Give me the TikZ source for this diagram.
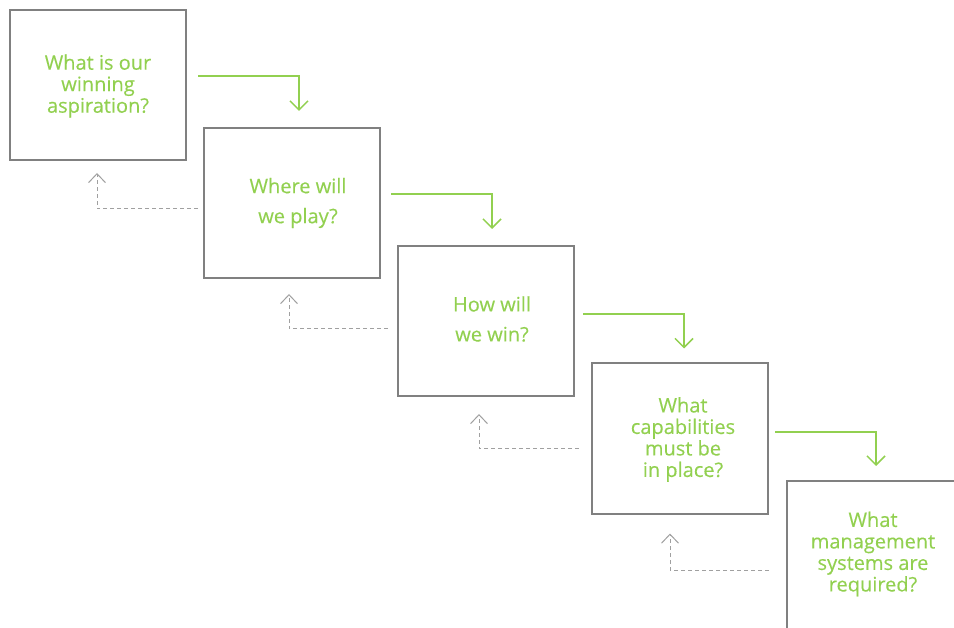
\documentclass[tikz,border=0pt]{standalone}
\usepackage{fontspec}
\setmainfont{Open Sans}
\newfontfamily\qfont{Open Sans}[FakeBold=0.3]
\usetikzlibrary{arrows.meta}
\definecolor{qgreen}{RGB}{146,208,80}
\definecolor{qgray}{RGB}{128,128,128}
\definecolor{qdash}{RGB}{160,160,160}
\tikzset{
    qbox/.style={draw=qgray, line width=2pt, minimum width=176pt, minimum height=150pt, outer sep=0pt},
    qtext/.style={text=qgreen, align=center, font=\qfont\fontsize{20}{21.5}\selectfont},
    fwd/.style={draw=qgreen, line width=1.5pt, -{Straight Barb[length=9pt, width=18pt]}},
    back/.style={draw=qdash, line width=1pt, dash pattern=on 4pt off 3pt, -{Straight Barb[length=9pt, width=17pt]}}
}
\begin{document}
\begin{tikzpicture}[x=1pt, y=-1pt]
    \useasboundingbox (0,0) rectangle (954,628);
    % the five boxes
    \node[qbox] (q1) at (98,85) {};
    \node[qbox] (q2) at (292,203) {};
    \node[qbox] (q3) at (486,321) {};
    \node[qbox] (q4) at (680,438.5) {};
    \node[qbox] (q5) at (875,556) {};
    % questions
    \node[qtext] (t1) at ([yshift=-1pt]q1) {What is our\\winning\\aspiration?};
    \node[qtext, font=\qfont\fontsize{20}{30}\selectfont] (t2) at ([xshift=6pt]q2) {Where will\\we play?};
    \node[qtext, font=\qfont\fontsize{20}{30}\selectfont] (t3) at ([xshift=6pt,yshift=2pt]q3) {How will\\we win?};
    \node[qtext] (t4) at ([xshift=3pt,yshift=-1pt]q4) {What\\capabilities\\must be\\in place?};
    \node[qtext] (t5) at ([xshift=-2pt,yshift=2pt]q5) {What\\management\\systems are\\required?};
    % forward arrows
    \draw[fwd] ([xshift=12pt,yshift=9pt]q1.east) -| ([xshift=7pt,yshift=17pt]q2.north);
    \draw[fwd] ([xshift=11pt,yshift=9pt]q2.east) -| ([xshift=6pt,yshift=17pt]q3.north);
    \draw[fwd] ([xshift=9pt,yshift=7pt]q3.east) -| ([xshift=4pt,yshift=15pt]q4.north);
    \draw[fwd] ([xshift=7pt,yshift=6.5pt]q4.east) -| ([xshift=1pt,yshift=15pt]q5.north);
    % feedback arrows
    \draw[back] ([xshift=-6pt,yshift=-6pt]q2.west) -| ([xshift=-1pt,yshift=-13pt]q1.south);
    \draw[back] ([xshift=-10pt,yshift=-8pt]q3.west) -| ([xshift=-3pt,yshift=-16pt]q2.south);
    \draw[back] ([xshift=-13pt,yshift=-10.5pt]q4.west) -| ([xshift=-7pt,yshift=-18pt]q3.south);
    \draw[back] ([xshift=-18pt,yshift=-14pt]q5.west) -| ([xshift=-10pt,yshift=-20pt]q4.south);
\end{tikzpicture}
\end{document}
